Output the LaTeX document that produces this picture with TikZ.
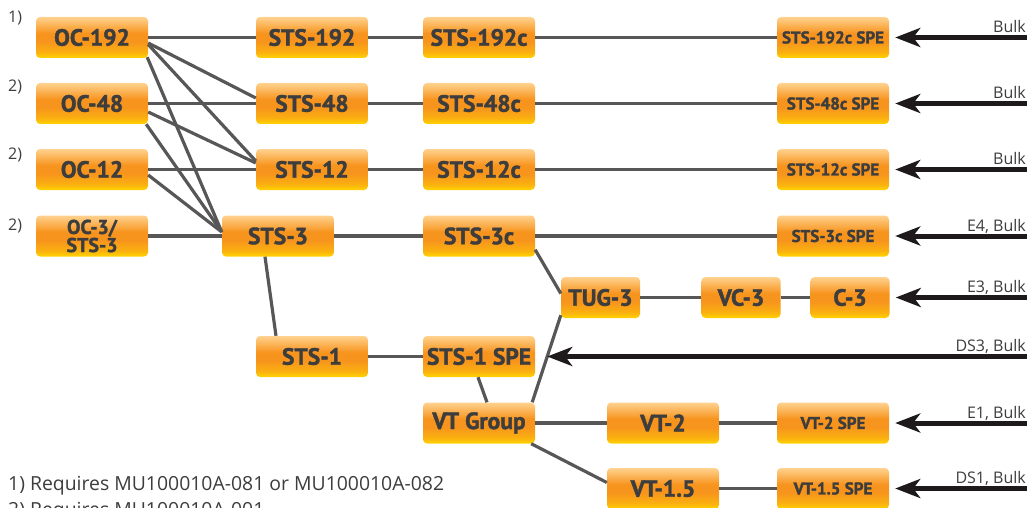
\documentclass[tikz,border=0pt]{standalone}
\usepackage{fontspec}
\setmainfont{Open Sans}
\newfontfamily\boxfont{PT Sans}[BoldFeatures={FakeBold=1.6}]
\usetikzlibrary{arrows.meta,calc}
\definecolor{boxtop}{HTML}{FFD28F}
\definecolor{boxmid}{HTML}{F7941D}
\definecolor{boxbot}{HTML}{FFD400}
\definecolor{linegray}{HTML}{575757}
\definecolor{txt}{HTML}{3D3D3D}
\definecolor{feedcol}{HTML}{1E1A1B}
\pgfdeclareverticalshading{boxshade}{100bp}{color(0bp)=(boxbot); color(25bp)=(boxbot); color(32bp)=(boxmid!55!boxbot); color(45bp)=(boxmid); color(55bp)=(boxmid); color(75bp)=(boxtop); color(100bp)=(boxtop)}
\begin{document}
\begin{tikzpicture}[x=1pt,y=-1pt,
  box/.style={shade, shading=boxshade, rounded corners=4pt, minimum width=112pt, minimum height=41pt, inner sep=0pt, text=txt, font=\boxfont\bfseries\fontsize{23.5}{23.5}\selectfont},
  small/.style={box, minimum width=79pt},
  spe/.style={box, font=\boxfont\bfseries\fontsize{17}{17}\selectfont},
  link/.style={draw=linegray, line width=3.2pt},
  feed/.style={draw=feedcol, line width=5pt, -{Stealth[length=25pt,width=19pt,inset=7pt]}},
  lab/.style={anchor=base east, font=\fontsize{16}{16}\selectfont, text=txt, inner sep=0pt},
  num/.style={anchor=base west, font=\fontsize{16}{16}\selectfont, text=txt, inner sep=0pt},
  foot/.style={anchor=base west, inner sep=0pt, text=txt, font=\fontsize{19.4}{19.4}\selectfont},
  ]
\useasboundingbox (0,0) rectangle (1027,508);
% column 1
\node[box] (oc192) at (92,37.5) {OC-192};
\node[box] (oc48) at (92,103.5) {OC-48};
\node[box] (oc12) at (92,169.5) {OC-12};
\node[box, align=center, font=\boxfont\bfseries\fontsize{20}{15}\selectfont] (oc3) at (92,236) {OC-3/\\STS-3};
% column 2
\node[box] (sts192) at (312,37.5) {STS-192};
\node[box] (sts48) at (312,103.5) {STS-48};
\node[box] (sts12) at (312,169.5) {STS-12};
\node[box] (sts3) at (278,236) {STS-3};
\node[box] (sts1) at (312,356.5) {STS-1};
% column 3
\node[box] (sts192c) at (479,37.5) {STS-192c};
\node[box] (sts48c) at (479,103.5) {STS-48c};
\node[box] (sts12c) at (479,169.5) {STS-12c};
\node[box] (sts3c) at (479,236) {STS-3c};
\node[box] (sts1spe) at (479,356.5) {STS-1 SPE};
\node[box] (vtg) at (479,423) {VT Group};
% others
\node[small] (tug3) at (600.5,297.5) {TUG-3};
\node[small] (vc3) at (741,297.5) {VC-3};
\node[small] (c3) at (850,297.5) {C-3};
\node[box] (vt2) at (663,423) {VT-2};
\node[box] (vt15) at (663,488.5) {VT-1.5};
% SPE column
\node[spe] (spe192) at (833,37.5) {STS-192c SPE};
\node[spe] (spe48) at (833,103.5) {STS-48c SPE};
\node[spe] (spe12) at (833,169.5) {STS-12c SPE};
\node[spe] (spe3) at (833,236) {STS-3c SPE};
\node[spe] (vt2spe) at (833,423) {VT-2 SPE};
\node[spe] (vt15spe) at (833,488.5) {VT-1.5 SPE};
% row numbers
\node[num] (n1) at (8,23) {1)};
\node[num] (n2) at (8,92) {2)};
\node[num] (n3) at (8,159) {2)};
\node[num] (n4) at (8,230) {2)};
% horizontal links
\draw[link] (oc192) -- (sts192);
\draw[link] (sts192) -- (sts192c);
\draw[link] (sts192c) -- (spe192);
\draw[link] (oc48) -- (sts48);
\draw[link] (sts48) -- (sts48c);
\draw[link] (sts48c) -- (spe48);
\draw[link] (oc12) -- (sts12);
\draw[link] (sts12) -- (sts12c);
\draw[link] (sts12c) -- (spe12);
\draw[link] (oc3) -- (sts3);
\draw[link] (sts3) -- (sts3c);
\draw[link] (sts3c) -- (spe3);
\draw[link] (tug3) -- (vc3);
\draw[link] (vc3) -- (c3);
\draw[link] (sts1) -- (sts1spe);
\draw[link] (vtg) -- (vt2);
\draw[link] (vt2) -- (vt2spe);
\draw[link] (vt15) -- (vt15spe);
% diagonal links
\draw[link] ($(oc192.east)+(0,5.5)$) -- ($(sts48.west)+(0,-5.5)$);
\draw[link] ($(oc192.east)+(0,7)$) -- ($(sts12.west)+(0,-8.5)$);
\draw[link] ($(oc192.south east)+(-1,-1)$) -- ($(sts3.west)+(0,-4)$);
\draw[link] ($(oc48.east)+(0,8.5)$) -- ($(sts12.west)+(0,-6.5)$);
\draw[link] ($(oc48.south east)+(-2,0)$) -- ($(sts3.west)+(0,-4)$);
\draw[link] ($(oc12.east)+(0,5.5)$) -- ($(sts3.west)+(0,-4)$);
\draw[link] ($(sts3.south)+(-13,0)$) -- ($(sts1.north)+(-36,0)$);
\draw[link] ($(sts3c.south east)+(0,-7)$) -- ($(tug3.west)+(0,-4)$);
\draw[link] ($(tug3.south west)+(0,-3)$) -- ($(vtg.north east)+(-3,0)$);
\draw[link] ($(sts1spe.south)+(-1,0)$) -- ($(vtg.north)+(8,0)$);
\draw[link] ($(vtg.south east)+(-4,0)$) -- ($(vt15.west)+(0,-6)$);
% feeds
\coordinate (f192) at (1027,37.5);
\coordinate (f48) at (1027,103.5);
\coordinate (f12) at (1027,169.5);
\coordinate (f3) at (1027,236);
\coordinate (fc3) at (1027,297.5);
\coordinate (fs1) at (1027,356.5);
\coordinate (fvt2) at (1027,423);
\coordinate (fvt15) at (1027,488.5);
\draw[feed] (f192) -- ($(spe192.east)+(6,0)$);
\draw[feed] (f48) -- ($(spe48.east)+(6,0)$);
\draw[feed] (f12) -- ($(spe12.east)+(6,0)$);
\draw[feed] (f3) -- ($(spe3.east)+(6,0)$);
\draw[feed] (fc3) -- ($(c3.east)+(6,0)$);
\draw[feed] (fs1) -- ($(sts1spe.east)+(12,0)$);
\draw[feed] (fvt2) -- ($(vt2spe.east)+(6,0)$);
\draw[feed] (fvt15) -- ($(vt15spe.east)+(6,0)$);
% feed labels
\node[lab] (l192) at (1026,32.5) {Bulk};
\node[lab] (l48) at (1026,98.5) {Bulk};
\node[lab] (l12) at (1026,164.5) {Bulk};
\node[lab] (l3) at (1026,231) {E4, Bulk};
\node[lab] (lc3) at (1026,292.5) {E3, Bulk};
\node[lab] (ls1) at (1026,351.5) {DS3, Bulk};
\node[lab] (lvt2) at (1026,418) {E1, Bulk};
\node[lab] (lvt15) at (1026,483.5) {DS1, Bulk};
% footnotes
\node[foot] (fn1) at (8,490) {1) Requires MU100010A-081 or MU100010A-082};
\node[foot] (fn2) at (8,516) {2) Requires MU100010A-001};
\end{tikzpicture}
\end{document}
